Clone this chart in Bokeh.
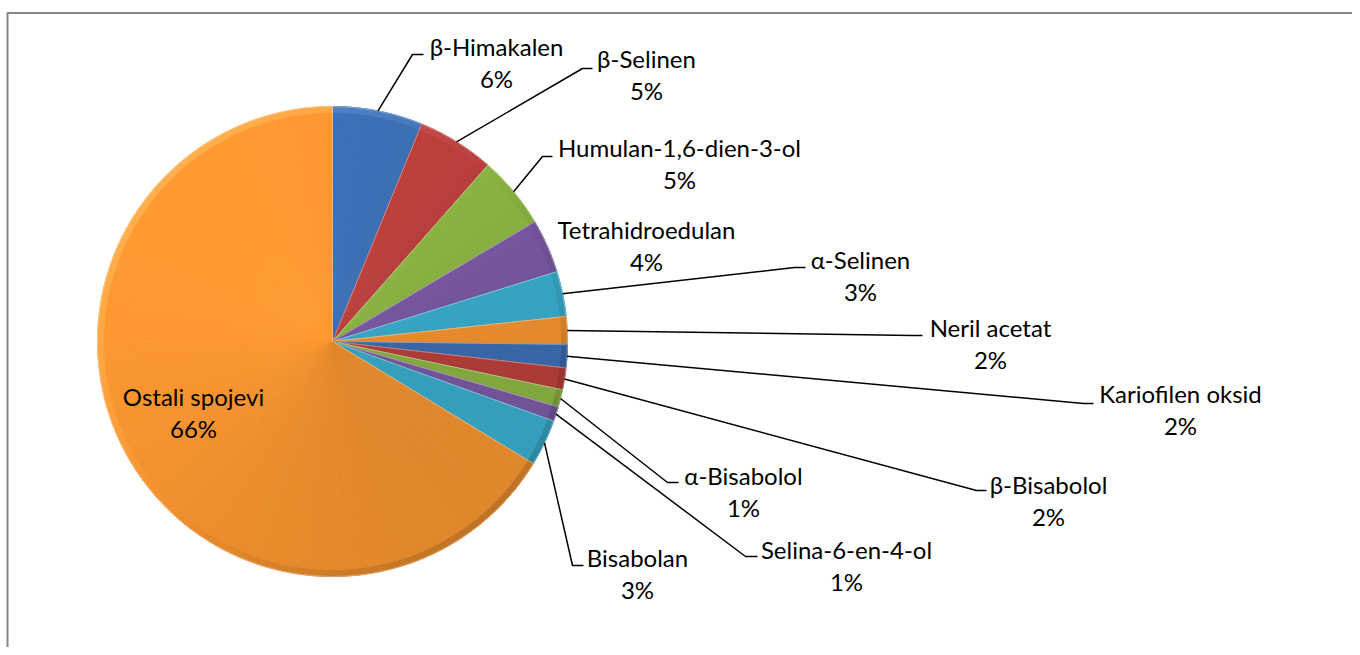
import math
from bokeh.plotting import figure
from bokeh.models import Range1d
from bokeh.core.properties import value
from bokeh.embed import file_html
from bokeh.resources import INLINE

# ---- data ----
names = ["β-Himakalen", "β-Selinen", "Humulan-1,6-dien-3-ol", "Tetrahidroedulan",
         "α-Selinen", "Neril acetat", "Kariofilen oksid", "β-Bisabolol",
         "α-Bisabolol", "Selina-6-en-4-ol", "Bisabolan", "Ostali spojevi"]
values = [6.2, 5.3, 5.0, 3.7, 3.1, 1.9, 1.6, 1.5, 1.2, 1.0, 3.2, 66.3]
colors = ["#3A6BAF", "#B63E3A", "#89B141", "#7757A0", "#38A9C9", "#F0902E",
          "#3A6BAF", "#B63E3A", "#89B141", "#7757A0", "#38A9C9", "#F0902E"]

# ---- layout (screen pixels) ----
CX, CY, R = 332, 341, 235
label_x = [496, 646, 679, 646, 860, 990, 1180, 1048, 743, 846, 637, 193]
label_base = [54, 66, 155, 237, 267, 335, 401, 492, 483, 557, 565, 404]
TEXT_SHIFT = -8
leaders = [(412, 54, 423), (582, 68, 592), (542, 156, 552), None,
           (794, 267, 805), (912, 335, 922), (1083, 403, 1093), (976, 490, 986),
           (667, 482, 678), (745, 556, 757), (572, 565, 583), None]
LINE_GAP = 32
FONT = "Lato"
FSIZE = "24px"
LIGHT_DIR = math.radians(135)

W, H = 1352, 647
p = figure(width=W, height=H, output_backend="svg", toolbar_location=None,
           x_range=Range1d(0, W), y_range=Range1d(-H, 0),
           min_border=0, x_axis_location=None, y_axis_location=None)
p.grid.visible = False
p.outline_line_color = None
p.background_fill_color = "white"


def Y(y):
    return -y


def hex2rgb(c):
    c = c.lstrip("#")
    return [int(c[i:i + 2], 16) for i in (0, 2, 4)]


def shade(c, t, up, down, white=0.0):
    r = hex2rgb(c)
    if t >= 0:
        r = [v * (1 + up * t) for v in r]
        r = [v + (255 - v) * white * t for v in r]
    else:
        r = [v * (1 + down * t) for v in r]
    return "#%02x%02x%02x" % tuple(int(round(min(255, max(0, v)))) for v in r)


total = sum(values)
cum = 0.0
for i, v in enumerate(values):
    a0 = math.pi / 2 - 2 * math.pi * cum / total
    a1 = math.pi / 2 - 2 * math.pi * (cum + v) / total
    mid = (a0 + a1) / 2
    n = max(2, int(math.degrees(a0 - a1) / 1.5))
    st, en, fc, rc = [], [], [], []
    for k in range(n):
        s = a1 + (a0 - a1) * k / n
        e = a1 + (a0 - a1) * (k + 1) / n
        t = math.cos((s + e) / 2 - LIGHT_DIR)
        st.append(s)
        en.append(e)
        fc.append(shade(colors[i], t, 0.07, 0.07))
        rc.append(shade(colors[i], t, 0.14, 0.20, 0.12))
    p.wedge(x=CX, y=Y(CY), radius=R, start_angle=st, end_angle=en,
            fill_color=fc, line_color=fc, line_width=0.8)
    p.annular_wedge(x=CX, y=Y(CY), inner_radius=R - 6, outer_radius=R,
                    start_angle=st, end_angle=en, fill_color=rc, line_color=rc,
                    line_width=0.8)
    # slice separators (soft bevel edge)
    p.wedge(x=CX, y=Y(CY), radius=R, start_angle=a1, end_angle=a0,
            fill_color=None, line_color="#ffffff", line_width=0.8, line_alpha=0.4)
    # leader line
    if leaders[i] is not None:
        sx = CX + R * math.cos(mid)
        sy = CY - R * math.sin(mid)
        ex, ey, hx = leaders[i]
        p.line([sx, ex, hx], [Y(sy), Y(ey), Y(ey)], line_color="black", line_width=1.5)
    pct = f"{int(v / total * 100 + 0.5)}%"
    by = label_base[i] + TEXT_SHIFT
    p.text(x=[label_x[i]], y=[Y(by)], text=[names[i]],
           text_font=value(FONT), text_font_size=FSIZE, text_align="center",
           text_baseline="alphabetic", text_color="black")
    p.text(x=[label_x[i]], y=[Y(by + LINE_GAP)], text=[pct],
           text_font=value(FONT), text_font_size=FSIZE, text_align="center",
           text_baseline="alphabetic", text_color="black")
    cum += v

# chart frame (top and left edges visible)
p.line([7, 7, W], [Y(H), Y(12.5), Y(12.5)], line_color="#868686", line_width=2)

open("out.html", "w").write(file_html(p, INLINE))
